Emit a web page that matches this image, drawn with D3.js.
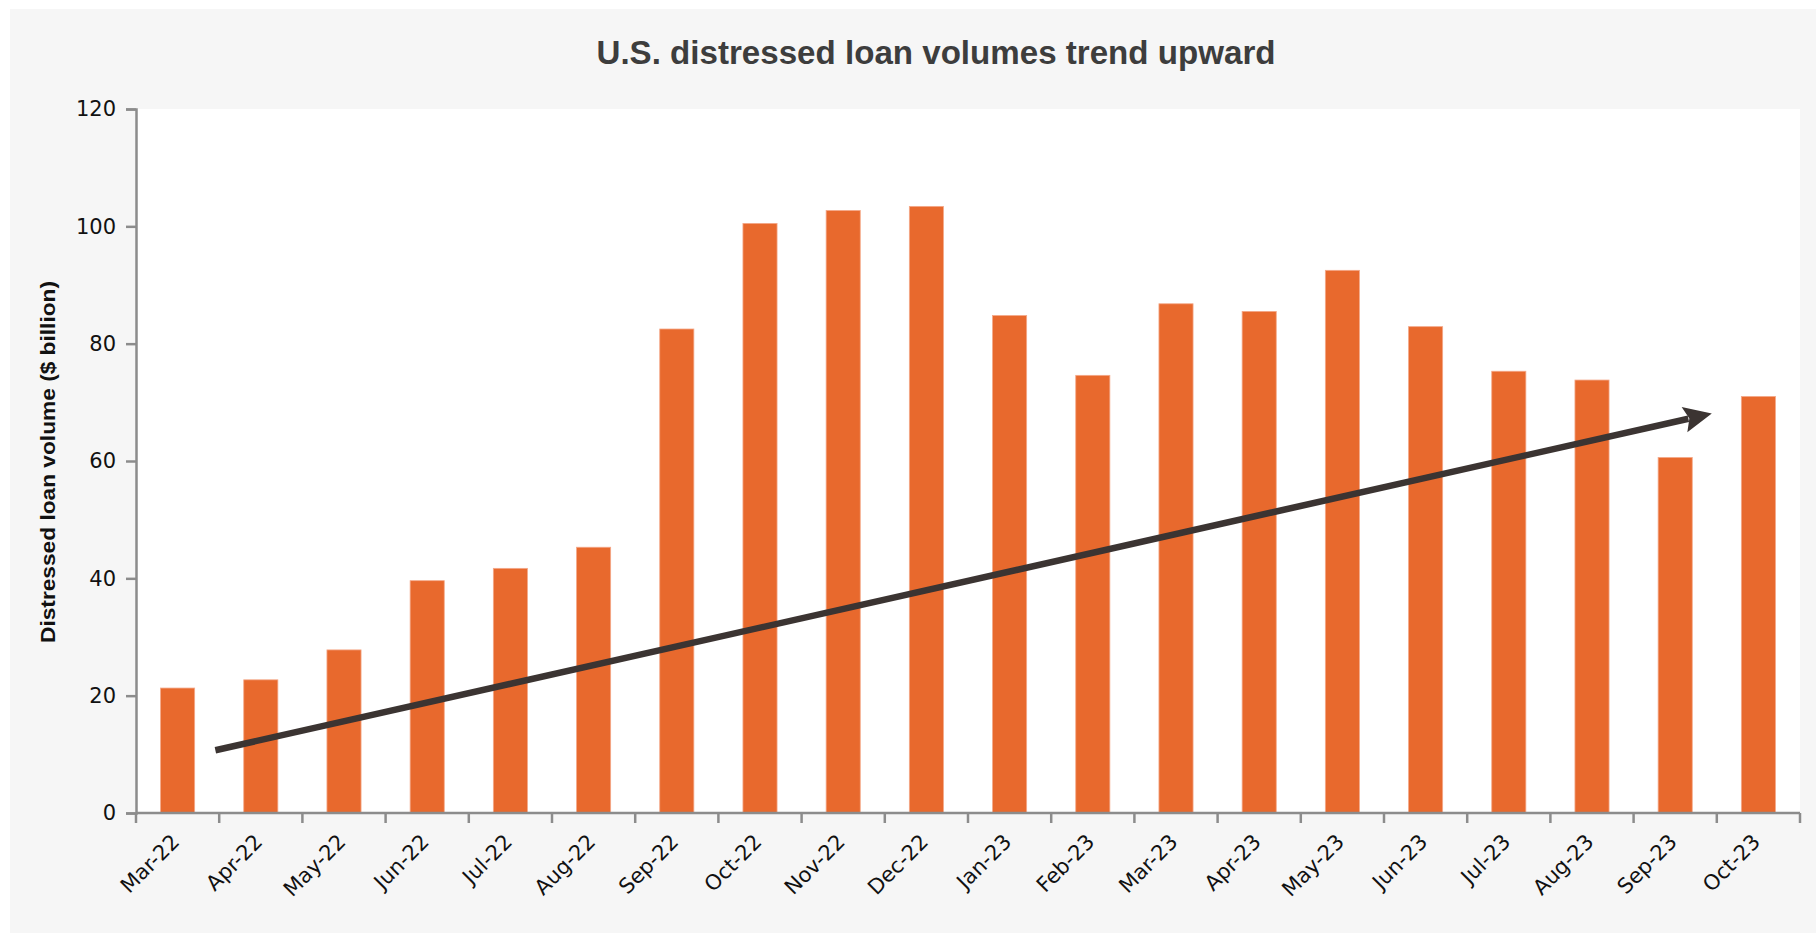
<!DOCTYPE html>
<html>
<head>
<meta charset="utf-8">
<script src="https://cdn.jsdelivr.net/npm/d3@7"></script>
<style>
  html, body { margin: 0; padding: 0; background: #ffffff; }
  svg { display: block; }
</style>
</head>
<body>
<svg id="chart" width="1816" height="933"></svg>
<script>
const categories = ["Mar-22","Apr-22","May-22","Jun-22","Jul-22","Aug-22","Sep-22","Oct-22","Nov-22","Dec-22",
                    "Jan-23","Feb-23","Mar-23","Apr-23","May-23","Jun-23","Jul-23","Aug-23","Sep-23","Oct-23"];
const volumes = [21.3, 22.7, 27.8, 39.6, 41.7, 45.3, 82.5, 100.5, 102.7, 103.4,
                 84.8, 74.6, 86.8, 85.5, 92.5, 82.9, 75.3, 73.8, 60.6, 71.0];
const yTicks = [0, 20, 40, 60, 80, 100, 120];
// trend arrow: [category position (in bands), value]
const trendStart = [0.954, 10.7];
const trendEnd = [18.94, 68.1];
const titleText = "U.S. distressed loan volumes trend upward";
const yTitleText = "Distressed loan volume ($ billion)";

const W = 1816, H = 933;
const margin = { left: 136, right: 16, top: 109, bottom: 120 };
const svg = d3.select("#chart");

svg.append("rect").attr("x", 10).attr("y", 9).attr("width", W - 10).attr("height", H - 9).attr("fill", "#f6f6f6");

const x = d3.scaleBand().domain(categories).range([margin.left, W - margin.right]).paddingInner(0.59).paddingOuter(0.295);
const xPos = d3.scaleLinear().domain([0, categories.length]).range([margin.left, W - margin.right]);
const y = d3.scaleLinear().domain([0, 120]).range([H - margin.bottom, margin.top]);

svg.append("rect").attr("x", margin.left).attr("y", margin.top)
  .attr("width", W - margin.right - margin.left).attr("height", H - margin.bottom - margin.top).attr("fill", "#ffffff");

svg.append("g").selectAll("rect").data(volumes).join("rect")
  .attr("x", (d, i) => x(categories[i]))
  .attr("width", x.bandwidth())
  .attr("y", d => y(d))
  .attr("height", d => y(0) - y(d))
  .attr("fill", "#e8692d")
  .attr("stroke", "#f4a889").attr("stroke-width", 0.8);

// Y axis
const yAxis = svg.append("g").attr("transform", `translate(${margin.left},0)`)
  .call(d3.axisLeft(y).tickValues(yTicks).tickSize(10).tickPadding(10));
yAxis.select(".domain").attr("stroke", "#8c8c8c").attr("stroke-width", 2.5);
yAxis.selectAll(".tick line").attr("stroke", "#8c8c8c").attr("stroke-width", 2.5);
yAxis.selectAll(".tick text").attr("font-family", "DejaVu Sans").attr("font-size", 21).attr("fill", "#111");

// X axis with ticks at category boundaries
const xAxisG = svg.append("g").attr("transform", `translate(0,${y(0)})`);
xAxisG.append("line").attr("x1", margin.left).attr("x2", W - margin.right).attr("y1", 0).attr("y2", 0)
  .attr("stroke", "#8c8c8c").attr("stroke-width", 2.5);
xAxisG.selectAll("line.tk").data(d3.range(categories.length + 1)).join("line").attr("class", "tk")
  .attr("x1", d => xPos(d)).attr("x2", d => xPos(d)).attr("y1", 0).attr("y2", 10)
  .attr("stroke", "#8c8c8c").attr("stroke-width", 2.5);
xAxisG.selectAll("text").data(categories).join("text")
  .attr("transform", d => `translate(${x(d) + x.bandwidth() / 2 + 3},${30}) rotate(-45)`)
  .attr("text-anchor", "end")
  .attr("font-family", "DejaVu Sans").attr("font-size", 21).attr("fill", "#111")
  .text(d => d);

// Trend arrow
const x1 = xPos(trendStart[0]), y1 = y(trendStart[1]);
const x2 = xPos(trendEnd[0]), y2 = y(trendEnd[1]);
const ang = Math.atan2(y2 - y1, x2 - x1);
const headLen = 28, headHalf = 13;
const bx = x2 - headLen * Math.cos(ang), by = y2 - headLen * Math.sin(ang);
svg.append("line").attr("x1", x1).attr("y1", y1).attr("x2", bx + 4 * Math.cos(ang)).attr("y2", by + 4 * Math.sin(ang))
  .attr("stroke", "#3b3432").attr("stroke-width", 6.5);
svg.append("path")
  .attr("d", `M${x2},${y2} L${bx - headHalf * Math.sin(ang)},${by + headHalf * Math.cos(ang)} L${bx + 5 * Math.cos(ang)},${by + 5 * Math.sin(ang)} L${bx + headHalf * Math.sin(ang)},${by - headHalf * Math.cos(ang)} Z`)
  .attr("fill", "#3b3432");

// Title
svg.append("text").attr("x", 936).attr("y", 64).attr("text-anchor", "middle")
  .attr("font-family", "Liberation Sans Narrow, Liberation Sans").attr("font-weight", "bold")
  .attr("font-size", 34).attr("fill", "#3d3d3d")
  .attr("textLength", 679).attr("lengthAdjust", "spacingAndGlyphs")
  .text(titleText);

// Y title
svg.append("text").attr("transform", `translate(55,${(margin.top + y(0)) / 2 + 1}) rotate(-90)`)
  .attr("text-anchor", "middle")
  .attr("font-family", "Liberation Sans Narrow, Liberation Sans").attr("font-weight", "bold")
  .attr("font-size", 21).attr("fill", "#111")
  .attr("textLength", 362).attr("lengthAdjust", "spacingAndGlyphs")
  .text(yTitleText);
</script>
</body>
</html>
